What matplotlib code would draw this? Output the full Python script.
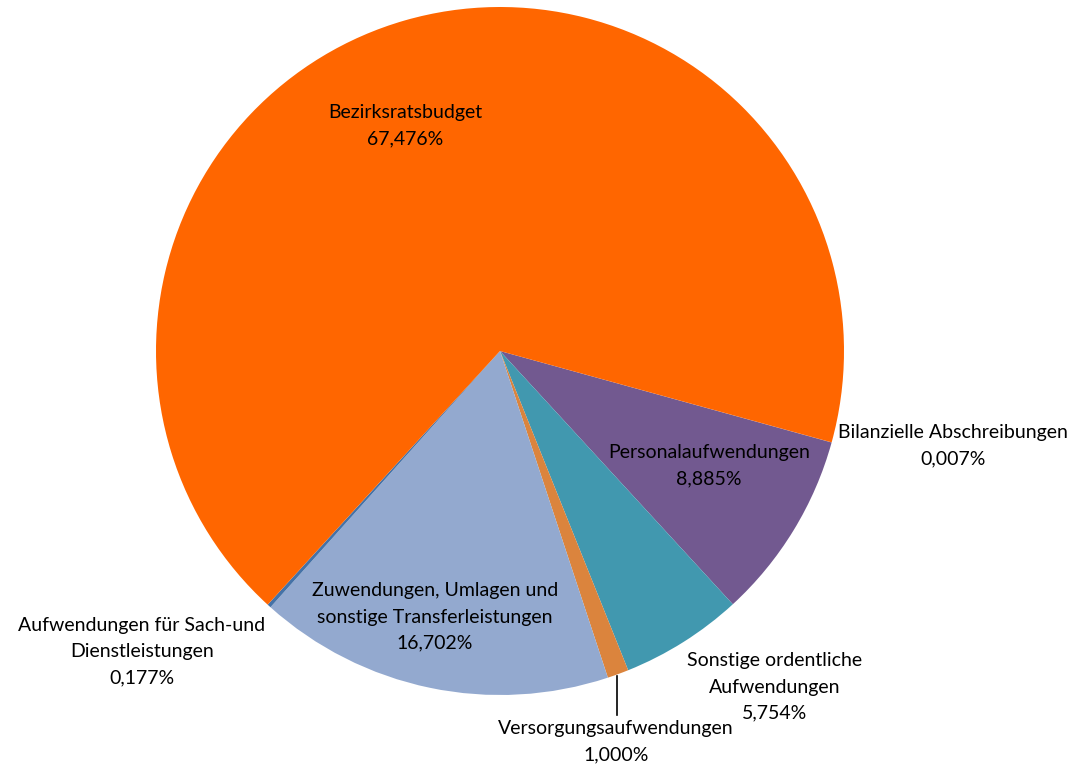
import matplotlib
matplotlib.use("Agg")
import matplotlib.pyplot as plt

# ---- data (clockwise from the right-hand edge) ----
labels = ["Bilanzielle Abschreibungen", "Personalaufwendungen",
          "Sonstige ordentliche\nAufwendungen", "Versorgungsaufwendungen",
          "Zuwendungen, Umlagen und\nsonstige Transferleistungen",
          "Aufwendungen für Sach-und\nDienstleistungen", "Bezirksratsbudget"]
shares = [0.007, 8.885, 5.754, 1.000, 16.702, 0.177, 67.476]
colors = ["#AA4643", "#725990", "#4198AF", "#DB843D", "#93A9CF", "#4572A7", "#FF6600"]

# label anchor points in pixel space (x, y from top)
label_pos = [(953, 446), (709, 466), (775, 687), (616, 742), (435, 617), (142, 652), (405, 126)]

W, H = 1074, 767
plt.rcParams["font.family"] = ["Lato", "DejaVu Sans"]
fig = plt.figure(figsize=(W / 100, H / 100), dpi=100)
ax = fig.add_axes([0, 0, 1, 1])

cx, cy, r = 500, H - 351, 344
ax.pie(shares, colors=colors, startangle=-15.4, counterclock=False,
       center=(cx, cy), radius=r, wedgeprops=dict(linewidth=0), frame=True)
ax.set_xlim(0, W)
ax.set_ylim(0, H)
ax.set_aspect("equal")
ax.axis("off")

for lab, val, (x, y) in zip(labels, shares, label_pos):
    txt = f"{lab}\n{val:.3f}%".replace(".", ",")
    ax.text(x, H - y, txt, ha="center", va="center", fontsize=14,
            color="black", linespacing=1.65)

# leader line for the thin Versorgung slice
ax.plot([617, 617], [H - 676, H - 715], color="black", lw=1.2)

fig.savefig("out.png", dpi=100)
